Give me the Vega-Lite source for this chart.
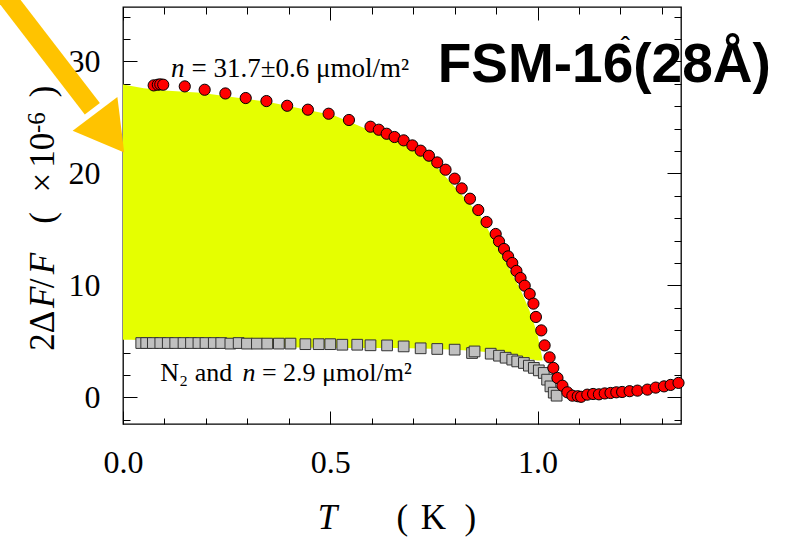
{
  "$schema": "https://vega.github.io/schema/vega-lite/v6.json",
  "width": 558,
  "height": 417,
  "autosize": {"type": "none"},
  "padding": {"left": 123, "top": 7, "right": 106, "bottom": 113},
  "background": "white",
  "config": {
    "view": {"stroke": "black", "strokeWidth": 1.3},
    "axis": {"domain": false, "grid": false, "labelColor": "black", "tickColor": "black", "tickWidth": 1, "labelFont": "Liberation Serif", "labelFontSize": 32, "title": null}
  },
  "datasets": {
    "red": [
      {"T":0.074,"v":27.86},{"T":0.084,"v":27.92},{"T":0.09,"v":27.95},{"T":0.097,"v":27.92},{"T":0.149,"v":27.77},{"T":0.197,"v":27.47},{"T":0.247,"v":27.14},{"T":0.296,"v":26.73},{"T":0.346,"v":26.46},{"T":0.396,"v":26.04},{"T":0.446,"v":25.69},{"T":0.496,"v":25.33},{"T":0.545,"v":24.77},{"T":0.597,"v":24.17},{"T":0.617,"v":23.9},{"T":0.636,"v":23.54},{"T":0.655,"v":23.25},{"T":0.677,"v":22.95},{"T":0.698,"v":22.5},{"T":0.718,"v":22.03},{"T":0.738,"v":21.58},{"T":0.758,"v":20.98},{"T":0.778,"v":20.33},{"T":0.8,"v":19.53},{"T":0.817,"v":18.66},{"T":0.837,"v":17.74},{"T":0.857,"v":16.73},{"T":0.877,"v":15.66},{"T":0.899,"v":14.59},{"T":0.907,"v":13.93},{"T":0.919,"v":13.25},{"T":0.929,"v":12.59},{"T":0.939,"v":12.0},{"T":0.949,"v":11.29},{"T":0.959,"v":10.66},{"T":0.969,"v":9.97},{"T":0.981,"v":9.23},{"T":0.99,"v":8.37},{"T":0.996,"v":7.18},{"T":1.009,"v":5.98},{"T":1.017,"v":4.64},{"T":1.029,"v":3.57},{"T":1.038,"v":2.63},{"T":1.048,"v":1.73},{"T":1.06,"v":1.04},{"T":1.072,"v":0.45},{"T":1.084,"v":0.15},{"T":1.097,"v":0.1},{"T":1.105,"v":0.05},{"T":1.12,"v":0.24},{"T":1.134,"v":0.3},{"T":1.148,"v":0.27},{"T":1.162,"v":0.35},{"T":1.176,"v":0.39},{"T":1.19,"v":0.45},{"T":1.204,"v":0.48},{"T":1.222,"v":0.55},{"T":1.241,"v":0.6},{"T":1.265,"v":0.69},{"T":1.285,"v":0.87},{"T":1.305,"v":0.98},{"T":1.321,"v":1.11},{"T":1.34,"v":1.29}
    ],
    "grey": [
      {"T":0.044,"v":4.85},{"T":0.056,"v":4.85},{"T":0.072,"v":4.85},{"T":0.09,"v":4.85},{"T":0.108,"v":4.85},{"T":0.126,"v":4.85},{"T":0.146,"v":4.85},{"T":0.164,"v":4.85},{"T":0.182,"v":4.85},{"T":0.199,"v":4.85},{"T":0.219,"v":4.85},{"T":0.237,"v":4.85},{"T":0.259,"v":4.8},{"T":0.279,"v":4.85},{"T":0.299,"v":4.8},{"T":0.323,"v":4.8},{"T":0.348,"v":4.8},{"T":0.376,"v":4.8},{"T":0.404,"v":4.8},{"T":0.44,"v":4.75},{"T":0.472,"v":4.75},{"T":0.5,"v":4.75},{"T":0.529,"v":4.7},{"T":0.565,"v":4.7},{"T":0.597,"v":4.65},{"T":0.637,"v":4.64},{"T":0.677,"v":4.55},{"T":0.718,"v":4.38},{"T":0.758,"v":4.32},{"T":0.8,"v":4.26},{"T":0.842,"v":3.96},{"T":0.848,"v":4.1},{"T":0.887,"v":3.9},{"T":0.907,"v":3.72},{"T":0.923,"v":3.54},{"T":0.939,"v":3.37},{"T":0.951,"v":3.21},{"T":0.967,"v":3.07},{"T":0.979,"v":2.83},{"T":0.991,"v":2.63},{"T":1.003,"v":2.41},{"T":1.015,"v":2.18},{"T":1.023,"v":1.58},{"T":1.031,"v":0.98},{"T":1.039,"v":0.42},{"T":1.046,"v":0.15}
    ],
    "fill": [
      {"T":0.0,"top":27.95,"bottom":5.15},{"T":0.02,"top":27.8,"bottom":5.15},{"T":0.05,"top":27.6,"bottom":5.1},{"T":0.1,"top":27.4,"bottom":4.9},{"T":0.187,"top":27.2,"bottom":4.7},{"T":0.348,"top":26.4,"bottom":4.5},{"T":0.508,"top":25.2,"bottom":4.4},{"T":0.621,"top":23.45,"bottom":4.4},{"T":0.669,"top":22.8,"bottom":4.4},{"T":0.742,"top":21.2,"bottom":4.35},{"T":0.822,"top":17.9,"bottom":4.2},{"T":0.862,"top":16.2,"bottom":4.1},{"T":0.903,"top":13.5,"bottom":3.95},{"T":0.943,"top":10.7,"bottom":3.7},{"T":0.959,"top":9.6,"bottom":3.6},{"T":0.98,"top":7.8,"bottom":3.45},{"T":0.999,"top":5.75,"bottom":3.3},{"T":1.012,"top":3.4,"bottom":3.3}
    ]
  },
  "layer": [
    {
      "data": {"name": "fill"},
      "mark": {"type": "area", "color": "#E5FF00", "opacity": 1},
      "encoding": {
        "x": {"field": "T", "type": "quantitative", "scale": {"domain": [0, 1.346], "nice": false, "zero": false},
          "axis": {"orient": "bottom", "values": [0,0.1,0.2,0.3,0.4,0.5,0.6,0.7,0.8,0.9,1.0,1.1,1.2,1.3], "format": ".1f",
            "labelExpr": "abs(datum.value*2 - round(datum.value*2)) < 0.001 ? datum.label : ''",
            "tickSize": {"condition": {"test": "abs(datum.value*2 - round(datum.value*2)) < 0.001", "value": -13}, "value": -6},
            "labelPadding": 36, "labelFlush": false, "labelOverlap": false}},
        "y": {"field": "top", "type": "quantitative", "scale": {"domain": [-2.38, 34.86], "nice": false, "zero": false},
          "axis": {"orient": "left", "values": [-2,0,2,4,6,8,10,12,14,16,18,20,22,24,26,28,30,32,34],
            "labelExpr": "datum.value % 10 == 0 ? datum.label : ''",
            "tickSize": {"condition": {"test": "datum.value % 10 == 0", "value": -14}, "value": -7},
            "labelPadding": 37, "labelFlush": false, "labelOverlap": false}},
        "y2": {"field": "bottom"}
      }
    },
    {
      "mark": {"type": "rule", "color": "black", "strokeWidth": 1},
      "encoding": {"y": {"datum": 0, "type": "quantitative", "axis": null}}
    },
    {
      "data": {"name": "grey"},
      "mark": {"type": "point", "shape": "square", "filled": true, "color": "#C0C0C0", "stroke": "#333333", "strokeWidth": 1, "size": 115, "opacity": 1},
      "encoding": {
        "x": {"field": "T", "type": "quantitative", "axis": null},
        "y": {"field": "v", "type": "quantitative", "axis": null}
      }
    },
    {
      "data": {"name": "red"},
      "mark": {"type": "point", "shape": "circle", "filled": true, "color": "#FF0000", "stroke": "black", "strokeWidth": 1, "size": 125, "opacity": 1},
      "encoding": {
        "x": {"field": "T", "type": "quantitative",
          "axis": {"orient": "top", "values": [0,0.1,0.2,0.3,0.4,0.5,0.6,0.7,0.8,0.9,1.0,1.1,1.2,1.3], "labels": false,
            "tickSize": {"condition": {"test": "abs(datum.value*2 - round(datum.value*2)) < 0.001", "value": -13}, "value": -7}}},
        "y": {"field": "v", "type": "quantitative",
          "axis": {"orient": "right", "values": [-2,0,2,4,6,8,10,12,14,16,18,20,22,24,26,28,30,32,34], "labels": false,
            "tickSize": {"condition": {"test": "datum.value % 10 == 0", "value": -14}, "value": -7}}}
      }
    },
    {
      "data": {"values": [{"T": 0.116, "v": 28.6, "s": "n"}]},
      "mark": {"type": "text", "font": "Liberation Serif", "fontStyle": "italic", "fontSize": 27, "align": "left", "baseline": "alphabetic", "color": "black"},
      "encoding": {"x": {"field": "T", "type": "quantitative", "axis": null}, "y": {"field": "v", "type": "quantitative", "axis": null}, "text": {"field": "s"}}
    },
    {
      "data": {"values": [{"T": 0.165, "v": 28.6, "s": "= 31.7±0.6 μmol/m²"}]},
      "mark": {"type": "text", "font": "Liberation Serif", "fontSize": 27, "align": "left", "baseline": "alphabetic", "color": "black"},
      "encoding": {"x": {"field": "T", "type": "quantitative", "axis": null}, "y": {"field": "v", "type": "quantitative", "axis": null}, "text": {"field": "s"}}
    },
    {
      "data": {"values": [{"T": 0.288, "v": 1.49, "s": "n"}]},
      "mark": {"type": "text", "font": "Liberation Serif", "fontStyle": "italic", "fontSize": 26, "align": "left", "baseline": "alphabetic", "color": "black"},
      "encoding": {"x": {"field": "T", "type": "quantitative", "axis": null}, "y": {"field": "v", "type": "quantitative", "axis": null}, "text": {"field": "s"}}
    },
    {
      "data": {"values": [{"T": 0.09, "v": 1.49, "s": "N₂ and"}, {"T": 0.335, "v": 1.49, "s": "= 2.9 μmol/m²"}]},
      "mark": {"type": "text", "font": "Liberation Serif", "fontSize": 26, "align": "left", "baseline": "alphabetic", "color": "black"},
      "encoding": {"x": {"field": "T", "type": "quantitative", "axis": null}, "y": {"field": "v", "type": "quantitative", "axis": null}, "text": {"field": "s"}}
    },
    {
      "data": {"values": [{"T": 0.759, "v": 28.2, "s": "FSM-16(28Å)"}]},
      "mark": {"type": "text", "font": "Liberation Sans", "fontWeight": "bold", "fontSize": 55, "align": "left", "baseline": "alphabetic", "color": "black"},
      "encoding": {"x": {"field": "T", "type": "quantitative", "axis": null}, "y": {"field": "v", "type": "quantitative", "axis": null}, "text": {"field": "s"}}
    },
    {
      "data": {"values": [{"T": 1.212, "v": 30.5, "s": "ˆ"}]},
      "mark": {"type": "text", "font": "Liberation Sans", "fontSize": 28, "align": "center", "baseline": "alphabetic", "color": "black"},
      "encoding": {"x": {"field": "T", "type": "quantitative", "axis": null}, "y": {"field": "v", "type": "quantitative", "axis": null}, "text": {"field": "s"}}
    },
    {
      "data": {"values": [{"T": 0.47, "v": -11.75, "s": "T"}]},
      "mark": {"type": "text", "font": "Liberation Serif", "fontStyle": "italic", "fontSize": 35, "align": "left", "baseline": "alphabetic", "color": "black"},
      "encoding": {"x": {"field": "T", "type": "quantitative", "axis": null}, "y": {"field": "v", "type": "quantitative", "axis": null}, "text": {"field": "s"}}
    },
    {
      "data": {"values": [{"T": 0.66, "v": -11.75, "s": "("}, {"T": 0.718, "v": -11.75, "s": "K"}, {"T": 0.824, "v": -11.75, "s": ")"}]},
      "mark": {"type": "text", "font": "Liberation Serif", "fontSize": 35, "align": "left", "baseline": "alphabetic", "color": "black"},
      "encoding": {"x": {"field": "T", "type": "quantitative", "axis": null}, "y": {"field": "v", "type": "quantitative", "axis": null}, "text": {"field": "s"}}
    },
    {
      "data": {"values": [{"T": -0.166, "v": 7.99, "s": "F"}, {"T": -0.166, "v": 11.0, "s": "F"}]},
      "mark": {"type": "text", "font": "Liberation Serif", "fontStyle": "italic", "fontSize": 35, "align": "left", "baseline": "alphabetic", "angle": 270, "color": "black"},
      "encoding": {"x": {"field": "T", "type": "quantitative", "axis": null}, "y": {"field": "v", "type": "quantitative", "axis": null}, "text": {"field": "s"}}
    },
    {
      "data": {"values": [{"T": -0.166, "v": 4.17, "s": "2Δ"}, {"T": -0.166, "v": 9.75, "s": "/"}, {"T": -0.166, "v": 15.5, "s": "("}, {"T": -0.166, "v": 18.3, "s": "×"}, {"T": -0.166, "v": 20.5, "s": "10"}, {"T": -0.166, "v": 26.8, "s": ")"}]},
      "mark": {"type": "text", "font": "Liberation Serif", "fontSize": 35, "align": "left", "baseline": "alphabetic", "angle": 270, "color": "black"},
      "encoding": {"x": {"field": "T", "type": "quantitative", "axis": null}, "y": {"field": "v", "type": "quantitative", "axis": null}, "text": {"field": "s"}}
    },
    {
      "data": {"values": [{"T": -0.187, "v": 23.6, "s": "-6"}]},
      "mark": {"type": "text", "font": "Liberation Serif", "fontSize": 25, "align": "left", "baseline": "alphabetic", "angle": 270, "color": "black"},
      "encoding": {"x": {"field": "T", "type": "quantitative", "axis": null}, "y": {"field": "v", "type": "quantitative", "axis": null}, "text": {"field": "s"}}
    },
    {
      "data": {"values": [{"T": -0.308, "v": 37.03, "T2": -0.074, "v2": 25.78}]},
      "mark": {"type": "rule", "color": "#FFC300", "strokeWidth": 19, "strokeCap": "butt"},
      "encoding": {"x": {"field": "T", "type": "quantitative", "axis": null}, "y": {"field": "v", "type": "quantitative", "axis": null}, "x2": {"field": "T2"}, "y2": {"field": "v2"}}
    },
    {
      "data": {"values": [{"T": -0.044, "v": 24.17}]},
      "mark": {"type": "point", "shape": "triangle", "filled": true, "color": "#FFC300", "size": 3136, "angle": 143, "opacity": 1},
      "encoding": {"x": {"field": "T", "type": "quantitative", "axis": null}, "y": {"field": "v", "type": "quantitative", "axis": null}}
    }
  ],
  "resolve": {"axis": {"x": "independent", "y": "independent"}}
}
